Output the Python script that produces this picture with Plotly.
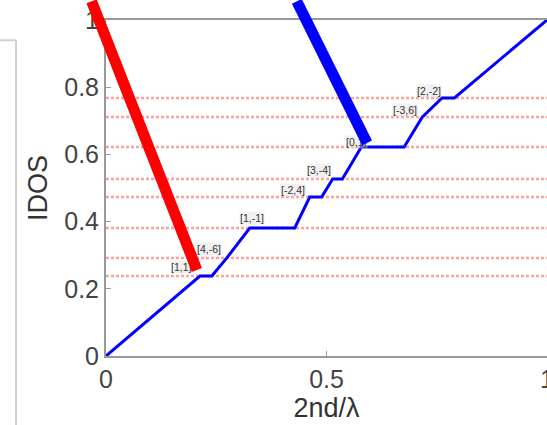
import plotly.graph_objects as go

# Blue IDOS staircase (x = 2nd/lambda, y = IDOS)
idos_x = [0, 0.213, 0.24, 0.274, 0.326, 0.428, 0.462, 0.489, 0.514, 0.536, 0.579, 0.676, 0.717, 0.762, 0.79, 1.0]
idos_y = [0, 0.238, 0.238, 0.292, 0.381, 0.381, 0.473, 0.473, 0.527, 0.527, 0.622, 0.622, 0.711, 0.768, 0.768, 1.0]

# Red dashed gap levels
gap_levels = [0.238, 0.292, 0.381, 0.473, 0.527, 0.622, 0.711, 0.768]

# Gap labels
label_text = ["[1,1]", "[4,-6]", "[1,-1]", "[-2,4]", "[3,-4]", "[0,1]", "[-3,6]", "[2,-2]"]
label_x = [0.145, 0.233, 0.330, 0.423, 0.484, 0.541, 0.679, 0.733]
label_y = [0.265, 0.318, 0.411, 0.494, 0.554, 0.637, 0.732, 0.789]
label_anchor = ["left", "center", "center", "center", "center", "left", "center", "center"]

# Pointer lines (tail -> head)
red_tail = (-0.034, 1.06)
red_head = (0.206, 0.256)
blue_tail = (0.431, 1.06)
blue_head = (0.592, 0.634)

fig = go.Figure()

for lv in gap_levels:
    fig.add_trace(go.Scatter(x=[0, 1], y=[lv, lv], mode="lines",
                             line=dict(color="rgba(255,120,120,0.7)", width=2.5, dash="3px,2px"),
                             hoverinfo="skip", showlegend=False))

fig.add_trace(go.Scatter(x=idos_x, y=idos_y, mode="lines",
                         line=dict(color="#0000ff", width=3), showlegend=False))

annotations = []
for t, x, y, a in zip(label_text, label_x, label_y, label_anchor):
    annotations.append(dict(x=x, y=y, xref="x", yref="y", text=t, showarrow=False,
                            xanchor=a, yanchor="middle",
                            font=dict(family="Liberation Sans, Arial", size=10.5, color="#333333"),
                            bgcolor="rgba(225,225,225,0.45)", borderpad=0))

for (tail, head, col) in [(red_tail, red_head, "#ff0000"), (blue_tail, blue_head, "#0000ff")]:
    annotations.append(dict(x=head[0], y=head[1], xref="x", yref="y",
                            ax=tail[0], ay=tail[1], axref="x", ayref="y",
                            text="", showarrow=True, arrowhead=0, arrowwidth=11,
                            arrowcolor=col, standoff=0, startstandoff=0))

# y-axis title placed as rotated text
annotations.append(dict(x=-0.154, y=0.5, xref="paper", yref="paper", text="IDOS",
                        textangle=-90, showarrow=False, xanchor="center", yanchor="middle",
                        font=dict(family="Liberation Sans, Arial", size=27, color="#333333")))

fig.update_layout(
    width=547, height=425,
    margin=dict(l=106, r=0, t=20, b=69),
    paper_bgcolor="white", plot_bgcolor="white",
    showlegend=False,
    font=dict(family="Liberation Sans, Arial", color="#444444"),
    annotations=annotations,
    shapes=[
        dict(type="line", xref="paper", yref="paper", x0=-0.204, x1=-0.204, y0=0.94, y1=-0.3,
             line=dict(color="#d0d0d0", width=2)),
        dict(type="line", xref="paper", yref="paper", x0=-0.3, x1=-0.204, y0=0.94, y1=0.94,
             line=dict(color="#d0d0d0", width=2)),
    ],
    xaxis=dict(range=[0, 1], tickvals=[0, 0.5, 1], ticktext=["0", "0.5", "1"],
               showgrid=False, zeroline=False, showline=True, mirror=True, automargin=False,
               linecolor="#999999", linewidth=2, ticks="inside", ticklen=5, tickcolor="#999999",
               tickfont=dict(size=25, color="#444444"), ticklabeloverflow="allow",
               title=dict(text="2nd/λ", font=dict(size=27, color="#333333"), standoff=0)),
    yaxis=dict(range=[0, 1], tickvals=[0, 0.2, 0.4, 0.6, 0.8, 1], ticktext=["0", "0.2", "0.4", "0.6", "0.8", "1"],
               showgrid=False, zeroline=False, showline=True, mirror=True, automargin=False,
               linecolor="#999999", linewidth=2, ticks="inside", ticklen=5, tickcolor="#999999",
               tickfont=dict(size=25, color="#444444"), ticklabeloverflow="allow"),
)

fig.write_html("out.html", config={"displayModeBar": False},
               post_script="document.body.style.margin='0';document.body.style.overflow='hidden';")
